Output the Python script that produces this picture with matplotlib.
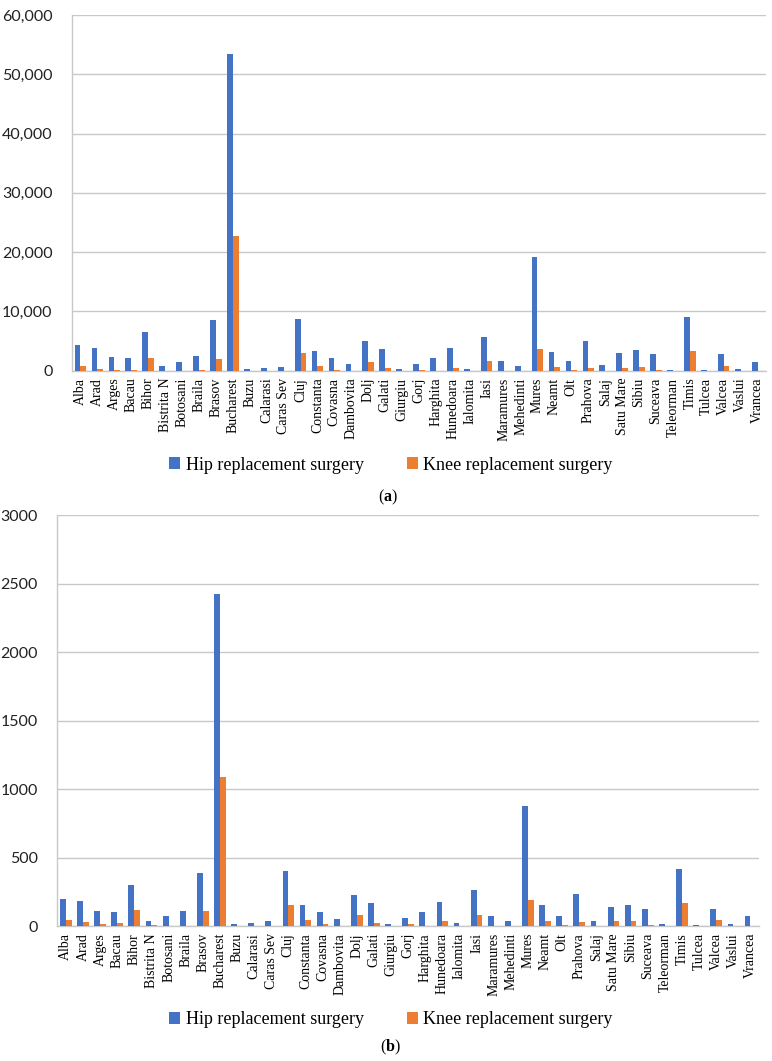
import matplotlib.pyplot as plt
import matplotlib.ticker as mticker
import numpy as np

# ---------------------------------------------------
# Data - counties and surgery counts
# ---------------------------------------------------
counties = ["Alba", "Arad", "Arges", "Bacau", "Bihor", "Bistrita N", "Botosani",
            "Braila", "Brasov", "Bucharest", "Buzu", "Calarasi", "Caras Sev", "Cluj",
            "Constanta", "Covasna", "Dambovita", "Dolj", "Galati", "Giurgiu", "Gorj",
            "Harghita", "Hunedoara", "Ialomita", "Iasi", "Maramures", "Mehedinti",
            "Mures", "Neamt", "Olt", "Prahova", "Salaj", "Satu Mare", "Sibiu",
            "Suceava", "Teleorman", "Timis", "Tulcea", "Valcea", "Vaslui", "Vrancea"]

# panel (a)
hip_a = [4300, 3850, 2250, 2200, 6550, 800, 1550,
         2400, 8500, 53500, 280, 400, 700, 8700,
         3350, 2150, 1150, 5050, 3650, 280, 1100,
         2100, 3750, 330, 5650, 1600, 750,
         19100, 3150, 1600, 5050, 900, 3000, 3450,
         2750, 200, 9050, 50, 2750, 280, 1550]
knee_a = [800, 350, 200, 200, 2200, 30, 20,
          40, 2050, 22800, 10, 10, 10, 2950,
          800, 150, 20, 1550, 400, 10, 100,
          30, 500, 20, 1600, 20, 20,
          3650, 600, 100, 450, 20, 500, 650,
          100, 20, 3350, 10, 800, 20, 20]

# panel (b)
hip_b = [200, 180, 112, 102, 302, 39, 73,
         112, 390, 2425, 15, 20, 34, 404,
         156, 102, 54, 229, 165, 15, 58,
         102, 175, 20, 263, 73, 37,
         876, 151, 73, 234, 39, 141, 156,
         126, 12, 418, 5, 126, 15, 73]
knee_b = [44, 29, 15, 20, 117, 5, 3,
          3, 107, 1090, 1, 1, 1, 150,
          44, 14, 3, 78, 24, 1, 14,
          2, 34, 2, 83, 2, 2,
          190, 39, 4, 29, 2, 34, 39,
          4, 3, 165, 1, 44, 2, 2]

yticks_a = [0, 10000, 20000, 30000, 40000, 50000, 60000]
yticks_b = [0, 500, 1000, 1500, 2000, 2500, 3000]

blue = "#4472C4"
orange = "#ED7D31"
grid_col = "#C8C8C8"
serif = ["Liberation Serif", "DejaVu Serif"]
W, H = 772, 1061

plt.rcParams["mathtext.fontset"] = "custom"
plt.rcParams["mathtext.bf"] = "Liberation Serif:bold"


def draw_panel(ax, hip, knee, yticks, fmt):
    x = np.arange(len(counties))
    w = 0.34
    ax.bar(x - w / 2, hip, w, color=blue, zorder=3)
    ax.bar(x + w / 2, knee, w, color=orange, zorder=3)
    ax.set_xlim(-0.5, len(counties) - 0.5)
    ax.set_ylim(0, yticks[-1])
    ax.set_yticks(yticks)
    ax.yaxis.set_major_formatter(fmt)
    ax.grid(axis="y", color=grid_col, linewidth=1, zorder=0)
    ax.set_xticks(x)
    ax.set_xticklabels(counties, rotation=90, family=serif, fontsize=10)
    ax.tick_params(axis="both", length=0)
    ax.tick_params(axis="x", pad=5)
    ax.tick_params(axis="y", pad=14, labelsize=11.5, labelcolor="#222222")
    for lab in ax.get_yticklabels():
        lab.set_family(["Lato", "DejaVu Sans"])
    for s in ["top", "right"]:
        ax.spines[s].set_visible(False)
    for s in ["left", "bottom"]:
        ax.spines[s].set_color(grid_col)
        ax.spines[s].set_linewidth(1)


fig = plt.figure(figsize=(W / 100, H / 100), dpi=100)

# panel (a)
ax1 = fig.add_axes([72 / W, 1 - 370.7 / H, 694 / W, 355.7 / H])
draw_panel(ax1, hip_a, knee_a, yticks_a, mticker.StrMethodFormatter("{x:,.0f}"))

# panel (b)
ax2 = fig.add_axes([57.3 / W, 1 - 926 / H, 701.7 / W, 410.7 / H])
draw_panel(ax2, hip_b, knee_b, yticks_b, mticker.StrMethodFormatter("{x:.0f}"))

for ax, ly in [(ax1, 465), (ax2, 1020)]:
    ax.legend(["Hip replacement surgery", "Knee replacement surgery"],
              loc="center", bbox_to_anchor=(391 / W, 1 - ly / H),
              bbox_transform=fig.transFigure, ncol=2, frameon=False,
              prop={"family": serif, "size": 13}, handlelength=0.6,
              handleheight=0.6, handletextpad=0.3, columnspacing=2.4)

fig.text(388 / W, 1 - 497 / H, r"($\mathbf{a}$)", ha="center", va="center",
         family=serif, fontsize=11.5)
fig.text(390 / W, 1 - 1047 / H, r"($\mathbf{b}$)", ha="center", va="center",
         family=serif, fontsize=11.5)

fig.savefig("out.png", dpi=100)
